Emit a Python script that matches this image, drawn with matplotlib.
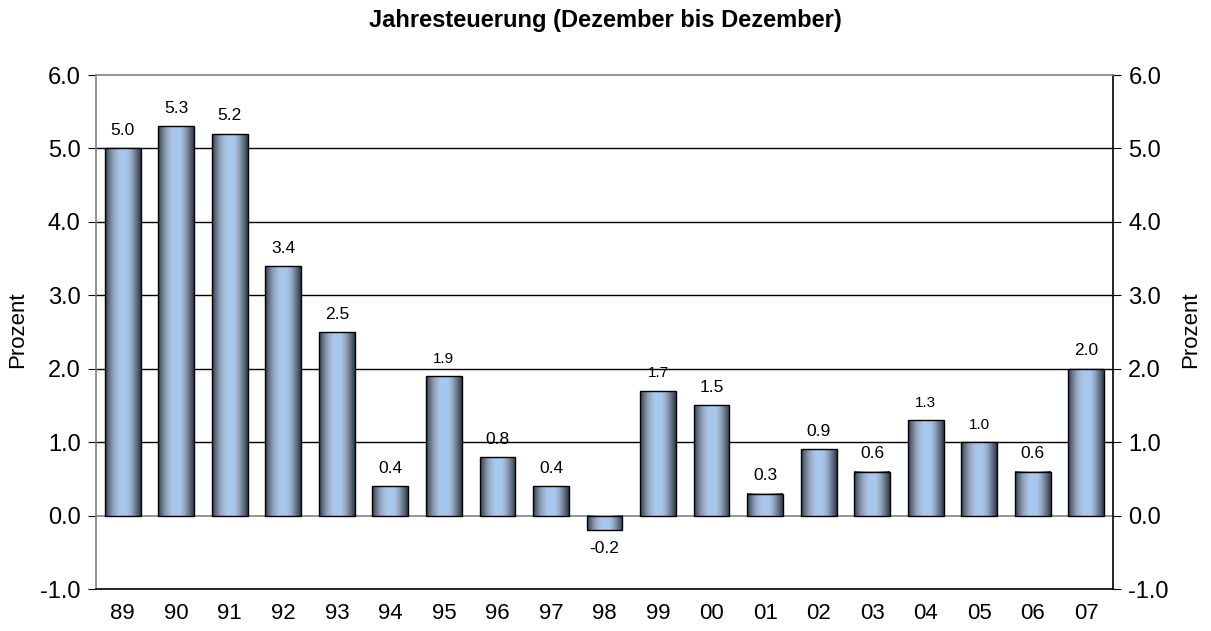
import numpy as np
import matplotlib.pyplot as plt
from matplotlib.colors import LinearSegmentedColormap

plt.rcParams['font.family'] = ['Liberation Sans', 'DejaVu Sans']

years = ['89', '90', '91', '92', '93', '94', '95', '96', '97', '98',
         '99', '00', '01', '02', '03', '04', '05', '06', '07']
inflation = [5.0, 5.3, 5.2, 3.4, 2.5, 0.4, 1.9, 0.8, 0.4, -0.2,
             1.7, 1.5, 0.3, 0.9, 0.6, 1.3, 1.0, 0.6, 2.0]
# labels drawn a little smaller in the original
small_labels = ['95', '99', '04', '05']

# cylinder-like shading across a bar
cyl = LinearSegmentedColormap.from_list('cyl', [
    (0.00, '#2f3b4c'), (0.08, '#56667c'), (0.20, '#8c9ab0'),
    (0.32, '#a3b8d4'), (0.42, '#a8c9f0'), (0.62, '#a6c6ec'),
    (0.74, '#98a8c0'), (0.86, '#6c7a8e'), (1.00, '#2f3b4c')])
grad = np.linspace(0, 1, 64).reshape(1, -1)

fig = plt.figure(figsize=(12.11, 6.31), dpi=100)
ax = fig.add_axes([96 / 1211, 1 - 589 / 631, (1113 - 96) / 1211, (589 - 75) / 631])

x = np.arange(len(years))
width = 0.67
bars = ax.bar(x, inflation, width, color='none', edgecolor='black', linewidth=1.0, zorder=3)
for b in bars:
    x0, y0 = b.get_x(), b.get_y()
    w, h = b.get_width(), b.get_height()
    ax.imshow(grad, cmap=cyl, aspect='auto', zorder=2,
              extent=(x0, x0 + w, y0, y0 + h), interpolation='bicubic')

for xi, v, yr in zip(x, inflation, years):
    fs = 11 if yr in small_labels else 12.5
    if v >= 0:
        ax.text(xi, v + 0.14, f'{v:.1f}', ha='center', va='bottom', fontsize=fs)
    else:
        ax.text(xi, v - 0.14, f'{v:.1f}', ha='center', va='top', fontsize=fs)

ax.set_xlim(-0.5, len(years) - 0.5)
ax.set_ylim(-1.0, 6.0)
ax.set_yticks(np.arange(-1, 7))
ax.set_yticklabels([f'{t:.1f}' for t in np.arange(-1, 7)])
ax.set_xticks(x)
ax.set_xticklabels(years)
ax.tick_params(axis='x', length=0, labelsize=16, pad=10)
ax.tick_params(axis='y', direction='out', length=6, labelsize=17, right=True,
               labelright=True, color='black', pad=5)

# gridlines: black for positive values, gray for zero and top
for t in [1, 2, 3, 4, 5]:
    ax.axhline(t, color='black', lw=1, zorder=1)
ax.axhline(0, color='gray', lw=1.2, zorder=1)

ax.spines['top'].set_color('gray')
ax.spines['left'].set_color('gray')
ax.spines['right'].set_color('black')
ax.spines['bottom'].set_color('black')
for s in ax.spines.values():
    s.set_linewidth(1.2)

# axis titles on both sides
fig.text(18 / 1211, 1 - 330 / 631, 'Prozent', rotation=90, ha='center', va='center', fontsize=16)
fig.text(1191 / 1211, 1 - 330 / 631, 'Prozent', rotation=90, ha='center', va='center', fontsize=16)

fig.text(0.5, 1 - 21 / 631, 'Jahresteuerung (Dezember bis Dezember)',
         ha='center', va='center', fontsize=17, fontweight='bold')

fig.savefig('out.png', dpi=100)
